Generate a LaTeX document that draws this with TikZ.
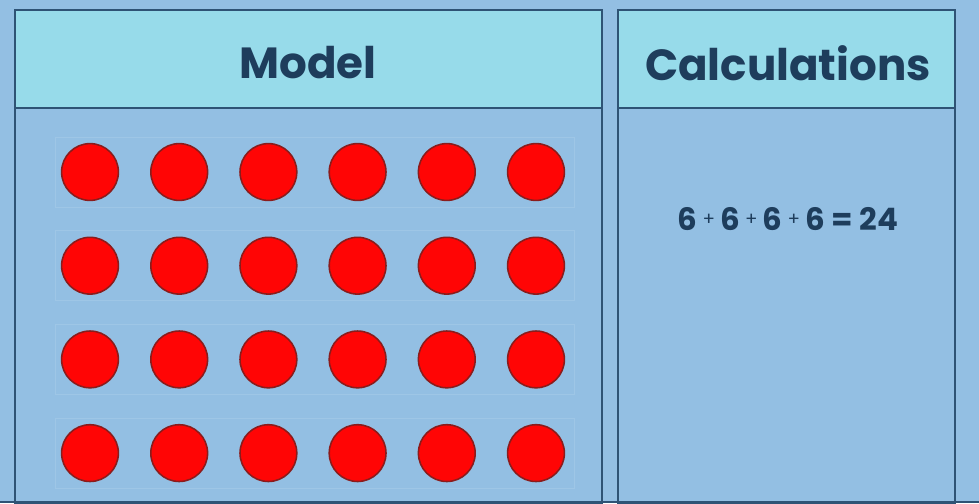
\documentclass[tikz,border=0pt]{standalone}
\usepackage{fontspec}
\setmainfont{Poppins}
\usetikzlibrary{positioning}
\definecolor{bgblue}{HTML}{93BFE3}
\definecolor{headcyan}{HTML}{97DBEA}
\definecolor{edge}{HTML}{2E5375}
\definecolor{ink}{HTML}{1E3D5C}
\definecolor{strip}{HTML}{9EC6E6}
\definecolor{counterred}{HTML}{FF0505}
\definecolor{counterrim}{HTML}{8A1C1C}
\tikzset{
  panel/.style={draw=edge,line width=2pt},
  head/.style={panel,fill=headcyan},
  title/.style={font=\fontsize{31}{31}\selectfont\bfseries,text=ink,inner sep=0},
  counter/.style={circle,draw=counterrim,fill=counterred,line width=1.1pt,minimum size=14.2mm,inner sep=0},
  rowstrip/.style={draw=strip,line width=0.5pt},
  sum/.style={font=\fontsize{22}{22}\selectfont\bfseries,text=ink,inner sep=0}
}
\newcommand{\pl}{\,\raisebox{3.5pt}{\fontsize{13}{13}\selectfont\mdseries +}\,}

\begin{document}
\begin{tikzpicture}[x=0.25mm,y=-0.25mm]
\fill[bgblue] (0,0) rectangle (979,503);
\useasboundingbox (0,0) rectangle (979,503);
% model panel
\draw[head] (15,10) rectangle (602,108);
\draw[panel] (15,108) rectangle (602,504);
% calculations panel
\draw[head] (618,10) rectangle (955,108);
\draw[panel] (618,108) rectangle (955,504);
\draw[edge,line width=2pt] (0,502) -- (979,502);
% headings
\node[title] (model) at (308,63) {Model};
\node[title] (calc) at (788,63) {Calculations};
% 4 rows of 6 counters
\foreach \r in {1,...,4}{
  \draw[rowstrip] (55,{137+93.7*(\r-1)}) rectangle (574,{207+93.7*(\r-1)});
  \foreach \c in {1,...,6}
    \node[counter] (dot\r\c) at ({90+89.2*(\c-1)},{172+93.7*(\r-1)}) {};
}
% repeated addition
\node[sum] (sum) at (788,219) {6\pl6\pl6\pl6 = 24};
\end{tikzpicture}
\end{document}
